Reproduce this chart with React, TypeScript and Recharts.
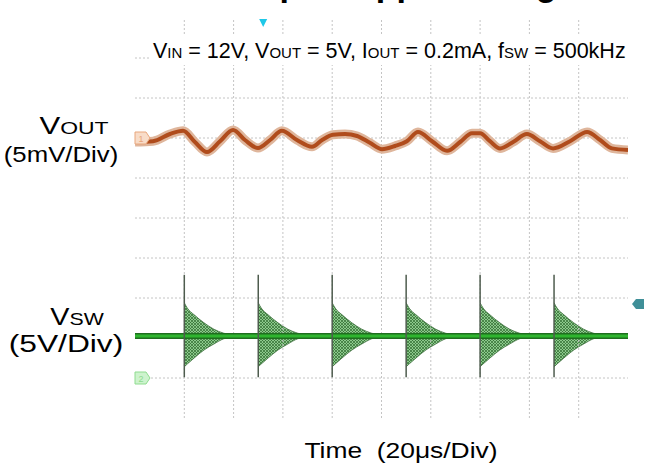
import { ComposedChart, Line, Area, XAxis, YAxis, ReferenceLine, ReferenceDot } from "recharts";

// horizontal: 20 µs/div, 10 divisions
const TIME_TICKS = [20, 40, 60, 80, 100, 120, 140, 160, 180];
// CH2 (VSW) 5 V/div, ground on the lowest grid line
const VSW_TICKS = [0, 5, 10, 15, 20, 25, 30, 35, 40];

// VOUT ripple (AC part around 5 V)
const voutTime = [
  0, 7.3, 14.2, 19.5, 24.3, 29.2, 34.5, 39.8, 44.6, 49.9, 54.8, 59.6, 65.7, 71.8, 75.9, 80.3, 85.2, 90.1,
  95.3, 100.2, 105.5, 110.3, 114.8, 120.5, 126.6, 131.9, 136.7, 140, 144, 148.1, 153.4, 159, 164.3, 169.6,
  176.5, 183.4, 188.7, 193.5, 200,
];
const voutMv = [
  -0.5, -0.4, 0.5, 0.9, -0.5, -1.75, -0.4, 1.0, -0.25, -1.25, -0.25, 0.9, -0.25, -1.1, -0.25, 0.4, 0.5, 0.25,
  -0.6, -1.4, -1.0, -0.4, 0.75, -0.4, -1.6, -0.5, 0.6, 0.6, -0.4, -1.3, -0.5, 0.5, -0.4, -1.3,
  -0.4, 0.75, -0.25, -1.3, -1.5,
];

// VSW: switching events and the ringing that follows each one
const pulseTimes = [20, 50, 80, 110, 140, 170];
const VSW_REST = 5.25;
const SPIKE_HIGH = 12.9;
const SPIKE_LOW = 0.1;
const ringOffset = [0, 1.2, 4, 8, 12, 16, 18.5];
const ringHigh = [9.4, 8.75, 7.9, 6.9, 6.1, 5.6, 5.4];
const ringLow = [1.4, 1.75, 2.5, 3.5, 4.25, 4.9, 5.1];

// markers
const CH1_OFFSET = 0;
const CH2_GROUND = 0;
const TRIG_LEVEL = 9.25;
const TRIG_TIME = 52;

const FONT = "'Liberation Sans', Arial, sans-serif";
const GRID = "#c4c4c4";

const voutData = voutTime.map((t, i) => ({ t, mv: voutMv[i] }));
const restData = [
  { t: 0, v: VSW_REST },
  { t: 200, v: VSW_REST },
];

function ChannelTag({ cx, cy, fill, stroke, label }: any) {
  return (
    <g>
      <path
        d={`M${cx},${cy - 6} L${cx + 11},${cy - 6} L${cx + 15},${cy} L${cx + 11},${cy + 6} L${cx},${cy + 6} Z`}
        fill={fill}
        stroke={stroke}
        strokeWidth={1}
      />
      <text x={cx + 6} y={cy + 4} fontSize={9} textAnchor="middle" fill={stroke} fontFamily={FONT}>
        {label}
      </text>
    </g>
  );
}

function TrigLevelTag({ cx, cy }: any) {
  return (
    <path
      d={`M${cx + 4},${cy} L${cx + 8},${cy - 5} L${cx + 16},${cy - 5} L${cx + 16},${cy + 5} L${cx + 8},${cy + 5} Z`}
      fill="#3f8f98"
    />
  );
}

function TrigTimeTag({ cx, cy }: any) {
  return <path d={`M${cx - 4},${cy + 1} L${cx + 4},${cy + 1} L${cx},${cy + 9} Z`} fill="#1ec8e8" />;
}

export default function App() {
  return (
    <div style={{ position: "absolute", left: 0, top: 0, width: 662, height: 465, background: "#fff" }}>
      <ComposedChart width={662} height={465} margin={{ top: 18, right: 34, bottom: 47, left: 135 }}>
        <defs>
          <pattern id="ringFill" width="3" height="3" patternUnits="userSpaceOnUse">
            <rect width="3" height="3" fill="#8cc98c" />
            <path d="M0,0 L3,3 M3,0 L0,3" stroke="#2f6a2f" strokeWidth={0.7} />
          </pattern>
        </defs>
        <XAxis type="number" dataKey="t" domain={[0, 200]} hide allowDataOverflow />
        <YAxis yAxisId="vsw" type="number" domain={[-5, 45]} hide allowDataOverflow />
        <YAxis yAxisId="vout" type="number" domain={[-35, 15]} hide allowDataOverflow />

        {VSW_TICKS.map((v) => (
          <ReferenceLine key={`h-${v}`} yAxisId="vsw" y={v} stroke={GRID} strokeDasharray="2 2" />
        ))}
        {TIME_TICKS.map((t) => (
          <ReferenceLine key={`v-${t}`} yAxisId="vsw" x={t} stroke={GRID} strokeDasharray="2 2" />
        ))}

        <Line
          yAxisId="vout"
          data={voutData}
          dataKey="mv"
          type="monotone"
          stroke="#dfb69c"
          strokeWidth={9}
          dot={false}
          isAnimationActive={false}
        />
        <Line
          yAxisId="vout"
          data={voutData}
          dataKey="mv"
          type="monotone"
          stroke="#b04c1c"
          strokeWidth={4}
          dot={false}
          isAnimationActive={false}
        />

        <Line
          yAxisId="vsw"
          data={restData}
          dataKey="v"
          stroke="#1f6e1f"
          strokeWidth={6}
          dot={false}
          isAnimationActive={false}
        />
        <Line
          yAxisId="vsw"
          data={restData}
          dataKey="v"
          stroke="#2fb52f"
          strokeWidth={3}
          dot={false}
          isAnimationActive={false}
        />
        {pulseTimes.map((p) => (
          <Area
            key={`ring-${p}`}
            yAxisId="vsw"
            data={ringOffset.map((o, i) => ({ t: p + o, band: [ringLow[i], ringHigh[i]] }))}
            dataKey="band"
            type="monotone"
            stroke="#3d6e3d"
            strokeWidth={0.8}
            fill="url(#ringFill)"
            fillOpacity={1}
            dot={false}
            activeDot={false}
            isAnimationActive={false}
          />
        ))}
        {pulseTimes.map((p) => (
          <Line
            key={`spike-${p}`}
            yAxisId="vsw"
            data={[
              { t: p, v: SPIKE_HIGH },
              { t: p, v: SPIKE_LOW },
            ]}
            dataKey="v"
            stroke="#4e5c4e"
            strokeWidth={1.5}
            dot={false}
            isAnimationActive={false}
          />
        ))}

        <ReferenceDot
          yAxisId="vout"
          x={0}
          y={CH1_OFFSET}
          ifOverflow="visible"
          shape={(props: any) => <ChannelTag {...props} fill="#f8dcc8" stroke="#e8a67c" label="1" />}
        />
        <ReferenceDot
          yAxisId="vsw"
          x={0}
          y={CH2_GROUND}
          ifOverflow="visible"
          shape={(props: any) => <ChannelTag {...props} fill="#cdf3cd" stroke="#8fdc8f" label="2" />}
        />
        <ReferenceDot
          yAxisId="vsw"
          x={200}
          y={TRIG_LEVEL}
          ifOverflow="visible"
          shape={(props: any) => <TrigLevelTag {...props} />}
        />
        <ReferenceDot
          yAxisId="vsw"
          x={TRIG_TIME}
          y={45}
          ifOverflow="visible"
          shape={(props: any) => <TrigTimeTag {...props} />}
        />
      </ComposedChart>

      <svg
        width={662}
        height={465}
        style={{ position: "absolute", left: 0, top: 0, pointerEvents: "none" }}
        fontFamily={FONT}
      >
        <text x={221} y={-4} fontSize={34} fontWeight="bold" fill="#000">
          Output Ripple Voltage
        </text>

        <rect x={150} y={35} width={478} height={30} fill="#fff" />
        <text x={153} y={58} fontSize={21.5} fill="#000" style={{ whiteSpace: "pre" }}>
          <tspan>V</tspan>
          <tspan fontSize={15}>IN</tspan>
          <tspan> = 12V, V</tspan>
          <tspan fontSize={15}>OUT</tspan>
          <tspan> = 5V, I</tspan>
          <tspan fontSize={15}>OUT</tspan>
          <tspan> = 0.2mA, f</tspan>
          <tspan fontSize={15}>SW</tspan>
          <tspan> = 500kHz</tspan>
        </text>

        <g transform="translate(74,134) scale(1.35,1)">
          <text x={0} y={0} fontSize={23} textAnchor="middle" fill="#000">
            <tspan>V</tspan>
            <tspan fontSize={17}>OUT</tspan>
          </text>
        </g>
        <g transform="translate(61,162) scale(1.12,1)">
          <text x={0} y={0} fontSize={23} textAnchor="middle" fill="#000">
            (5mV/Div)
          </text>
        </g>
        <g transform="translate(77,325) scale(1.25,1)">
          <text x={0} y={0} fontSize={23} textAnchor="middle" fill="#000">
            <tspan>V</tspan>
            <tspan fontSize={17}>SW</tspan>
          </text>
        </g>
        <g transform="translate(66,352) scale(1.38,1)">
          <text x={0} y={0} fontSize={23} textAnchor="middle" fill="#000">
            (5V/Div)
          </text>
        </g>

        <g transform="translate(401,458) scale(1.2,1)">
          <text x={0} y={0} fontSize={22} textAnchor="middle" fill="#000" style={{ whiteSpace: "pre" }}>
            Time  (20μs/Div)
          </text>
        </g>
      </svg>
    </div>
  );
}
